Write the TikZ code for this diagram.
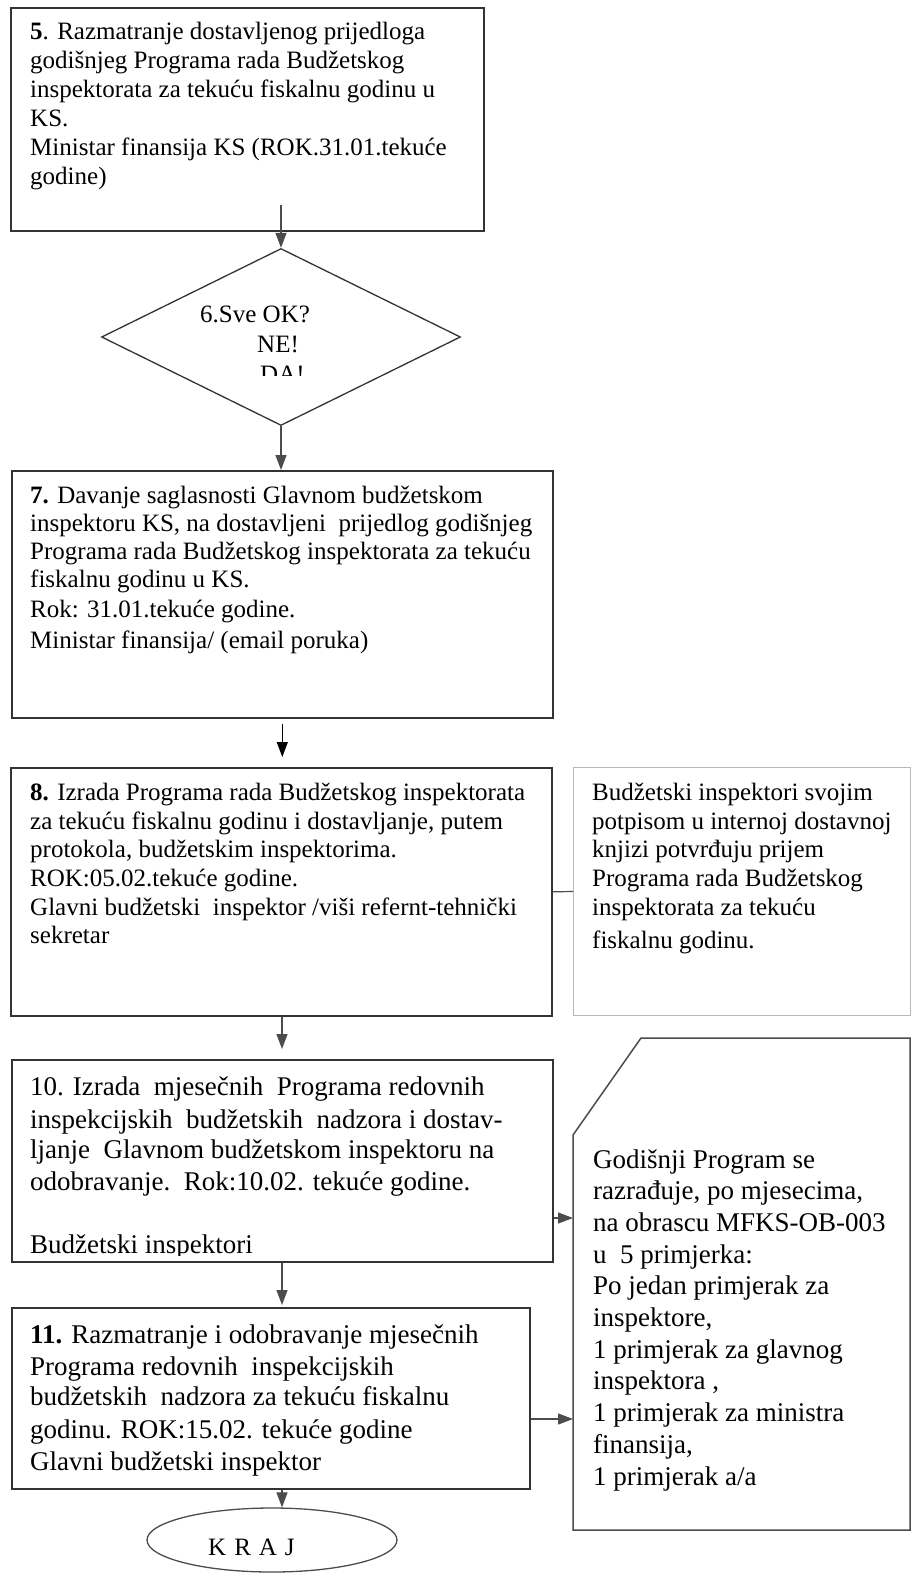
\documentclass[tikz,border=0pt]{standalone}
\usepackage{fontspec}
\setmainfont{Liberation Serif}
\usetikzlibrary{shapes.geometric,arrows.meta}
\definecolor{boxc}{gray}{0.2}
\definecolor{arrc}{gray}{0.3}
\definecolor{lightc}{gray}{0.72}
\tikzset{
  box/.style={draw=boxc, line width=1.6pt, anchor=north west, inner sep=0pt},
  lbox/.style={draw=lightc, line width=1pt, anchor=north west, inner sep=0pt},
  arr/.style={draw=arrc, line width=1.2pt, -{Triangle[length=15pt,width=11pt]}},
  txtA/.style={anchor=base west, inner sep=0pt, font=\fontsize{25}{30}\selectfont},
  txtB/.style={anchor=base west, inner sep=0pt, font=\fontsize{27}{32}\selectfont},
}
\begin{document}
\begin{tikzpicture}[x=1pt,y=-1pt]
\useasboundingbox (0,0) rectangle (917,1573);
\fill[white] (0,0) rectangle (917,1573);

% boxes
\node[box, minimum width=473pt, minimum height=223pt] (b5) at (10,7) {};
\node[draw=boxc, line width=1.3pt, diamond, minimum width=359pt, minimum height=177pt, inner sep=0pt] (d6) at (281,337) {};
\node[box, minimum width=541pt, minimum height=247pt] (b7) at (11,470) {};
\node[box, minimum width=541pt, minimum height=248pt] (b8) at (10,767) {};
\node[lbox, minimum width=337pt, minimum height=248pt] (s8) at (573,767) {};
\node[box, minimum width=541pt, minimum height=202pt] (b10) at (11,1059) {};
\node[box, minimum width=518pt, minimum height=181pt] (b11) at (11,1307) {};
\coordinate (p1) at (641,1038);
\coordinate (p2) at (910,1038);
\coordinate (p3) at (910,1530);
\coordinate (p4) at (573,1530);
\coordinate (p5) at (573,1135);
\draw[draw=arrc, line width=1.5pt] (p1) -- (p2) -- (p3) -- (p4) -- (p5) -- cycle;
\node[draw=arrc, line width=1.3pt, ellipse, minimum width=250pt, minimum height=64pt, inner sep=0pt] (kraj) at (272,1540) {};
\node[txtA] (krajt) at (208,1555) {K\hspace{8pt}R\hspace{8pt}A\hspace{8pt}J};

% connectors
\path (d6.north |- b5.south) ++(0,-27) coordinate (s5);
\draw[arr] (s5) -- (d6.north);
\draw[arr] (d6.south) -- (d6.south |- b7.north);
\draw[arr, draw=black, line width=1pt, shorten <=5pt, shorten >=10pt] (b7.south) -- (b7.south |- b8.north);
\draw[draw=arrc, line width=1.2pt] (b8.east) -- (s8.west);
\coordinate (ax) at (282,0);
\draw[arr, shorten >=10pt] (ax |- b8.south) -- (ax |- b10.north);
\draw[arr, shorten >=2pt] (ax |- b10.south) -- (ax |- b11.north);
\draw[arr] (ax |- b11.south) -- (ax |- kraj.north);
\coordinate (in10) at (573,1218);
\coordinate (in11) at (573,1419);
\draw[arr] (in10 -| b10.east) -- (in10);
\draw[arr] (in11 -| b11.east) -- (in11);

% box 5 text
\foreach \t [count=\i] in {{\textbf{5}. Razmatranje dostavljenog prijedloga},
  {godišnjeg Programa rada Budžetskog},
  {inspektorata za tekuću fiskalnu godinu u},
  {KS.},
  {Ministar finansija KS (ROK.31.01.tekuće},
  {godine)}}
  \node[txtA] (t5-\i) at (30,{40+29*(\i-1)}) {\t};

% diamond text
\node[txtA] (t6-1) at (200,322) {6.Sve OK?};
\node[txtA] (t6-2) at (257,352) {NE!};
\begin{scope}
\clip (0,0) rectangle (917,375);
\node[txtA] (t6-3) at (260,382) {DA!};
\end{scope}

% box 7 text
\foreach \y/\t [count=\i] in {503/{\textbf{7.} Davanje saglasnosti Glavnom budžetskom},
  531/{inspektoru KS, na dostavljeni\ \ prijedlog godišnjeg},
  559/{Programa rada Budžetskog inspektorata za tekuću},
  587/{fiskalnu godinu u KS.},
  617/{Rok: 31.01.tekuće godine.},
  648/{Ministar finansija/ (email poruka)}}
  \node[txtA] (t7-\i) at (30,\y) {\t};

% box 8 text
\foreach \y/\t [count=\i] in {800/{\textbf{8.} Izrada Programa rada Budžetskog inspektorata},
  829/{za tekuću fiskalnu godinu i dostavljanje, putem},
  857/{protokola, budžetskim inspektorima.},
  886/{ROK:05.02.tekuće godine.},
  915/{Glavni budžetski\ \ inspektor /viši refernt-tehnički},
  943/{sekretar}}
  \node[txtA] (t8-\i) at (30,\y) {\t};

% side text of box 8
\foreach \y/\t [count=\i] in {800/{Budžetski inspektori svojim},
  829/{potpisom u internoj dostavnoj},
  857/{knjizi potvrđuju prijem},
  886/{Programa rada Budžetskog},
  915/{inspektorata za tekuću},
  948/{fiskalnu godinu.}}
  \node[txtA] (ts-\i) at (592,\y) {\t};

% box 10 text
\foreach \y/\t [count=\i] in {1095/{10. Izrada\ \ mjesečnih\ \ Programa redovnih},
  1128/{inspekcijskih\ \ budžetskih\ \ nadzora i dostav-},
  1158/{ljanje\ \ Glavnom budžetskom inspektoru na},
  1190/{odobravanje.\ \ Rok:10.02. tekuće godine.}}
  \node[txtB] (t10-\i) at (30,\y) {\t};
\begin{scope}
\clip (0,1000) rectangle (917,1255);
\node[txtB] (t10-5) at (30,1253) {Budžetski inspektori};
\end{scope}

% box 11 text
\foreach \y/\t [count=\i] in {1343/{\textbf{11.} Razmatranje i odobravanje mjesečnih},
  1375/{Programa redovnih\ \ inspekcijskih},
  1405/{budžetskih\ \ nadzora za tekuću fiskalnu},
  1438/{godinu. ROK:15.02. tekuće godine},
  1470/{Glavni budžetski inspektor}}
  \node[txtB] (t11-\i) at (30,\y) {\t};

% pentagon text
\foreach \t [count=\i] in {{Godišnji Program se},
  {razrađuje, po mjesecima,},
  {na obrascu MFKS-OB-003},
  {u\ \ 5 primjerka:},
  {Po jedan primjerak za},
  {inspektore,},
  {1 primjerak za glavnog},
  {inspektora ,},
  {1 primjerak za ministra},
  {finansija,},
  {1 primjerak a/a}}
  \node[txtB] (tp-\i) at (593,{1168+31.7*(\i-1)}) {\t};
\end{tikzpicture}
\end{document}
